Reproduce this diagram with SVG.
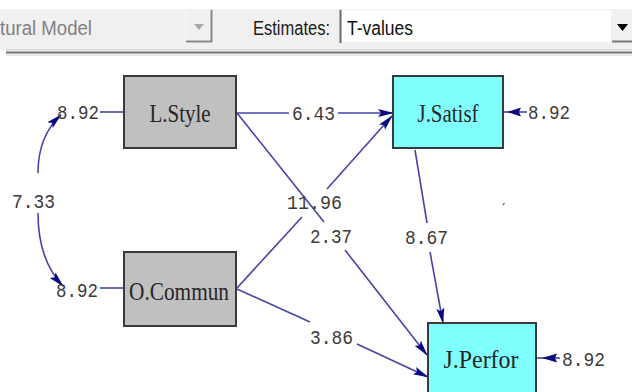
<svg xmlns="http://www.w3.org/2000/svg" width="632" height="392" viewBox="0 0 632 392">
<defs>
<style>
.hdr{font-family:"Liberation Sans","DejaVu Sans",sans-serif;font-size:20px}
.node rect{stroke:#3a3a3a;stroke-width:2}
.obs{fill:#c0c0c0}
.lat{fill:#80ffff}
.nt{font-family:"Liberation Serif","DejaVu Serif",serif;font-size:25px;fill:#262626;text-anchor:middle}
.num{font-family:"Liberation Mono","DejaVu Sans Mono",monospace;font-size:20px;fill:#3e3a3a}
.ln{stroke:#4545a5;stroke-width:1.6;fill:none}
.ar{fill:#0a0a80}
</style>
<marker id="ah" viewBox="0 0 16 10" refX="15" refY="5" markerWidth="16" markerHeight="10" markerUnits="userSpaceOnUse" orient="auto-start-reverse">
<path d="M0,1 L16,5 L0,9 L3,5 z" class="ar"/>
</marker>
</defs>
<rect width="632" height="392" fill="#ffffff"/>
<g id="toolbar">
<rect x="0" y="9" width="632" height="41" fill="#f0f0f0"/>
<line x1="186" y1="10" x2="186" y2="41" stroke="#fafafa" stroke-width="1"/>
<polyline points="186,41.5 211.5,41.5 211.5,10" fill="none" stroke="#8a8a8a" stroke-width="2"/>
<path d="M194,24 L204,24 L199,30 z" fill="#a8a8a8"/>
<text class="hdr" x="0" y="35" fill="#808080" textLength="92" lengthAdjust="spacingAndGlyphs">tural Model</text>
<text class="hdr" x="253" y="35" fill="#1a1a1a" textLength="77" lengthAdjust="spacingAndGlyphs">Estimates:</text>
<rect x="341" y="10" width="270" height="32" fill="#ffffff"/>
<line x1="340.5" y1="10" x2="340.5" y2="43" stroke="#6a6a6a" stroke-width="2"/>
<text class="hdr" x="347" y="35" fill="#111111" textLength="66" lengthAdjust="spacingAndGlyphs">T-values</text>
<rect x="611" y="10" width="21" height="31" fill="#f0f0f0"/>
<line x1="612" y1="41.5" x2="632" y2="41.5" stroke="#7a7a7a" stroke-width="2"/>
<path d="M617,24 L628,24 L622.5,31 z" fill="#000000"/>
<line x1="6" y1="50" x2="632" y2="50" stroke="#c8c8c8" stroke-width="1"/>
<line x1="6" y1="52.5" x2="632" y2="52.5" stroke="#707070" stroke-width="2"/>
<line x1="6" y1="55" x2="632" y2="55" stroke="#d0d0d0" stroke-width="1"/>
</g>
<g id="connectors">
<line class="ln" x1="100" y1="112" x2="124" y2="112"/>
<line class="ln" x1="100" y1="288" x2="124" y2="288"/>
<path class="ln" d="M38,173 Q38,136 61,115" marker-end="url(#ah)"/>
<path class="ln" d="M38,213 Q38,260 63,286" marker-end="url(#ah)"/>
<line class="ln" x1="237" y1="113" x2="289" y2="113"/>
<line class="ln" x1="338" y1="113" x2="393" y2="113" marker-end="url(#ah)"/>
<line class="ln" x1="237" y1="288" x2="302" y2="217"/>
<line class="ln" x1="327" y1="189" x2="392" y2="116" marker-end="url(#ah)"/>
<line class="ln" x1="237" y1="113" x2="324" y2="222"/>
<line class="ln" x1="345" y1="250" x2="427" y2="355" marker-end="url(#ah)"/>
<line class="ln" x1="237" y1="289" x2="310" y2="322"/>
<line class="ln" x1="357" y1="344" x2="428" y2="377" marker-end="url(#ah)"/>
<line class="ln" x1="415" y1="150" x2="427" y2="223"/>
<line class="ln" x1="430" y1="252" x2="443" y2="323" marker-end="url(#ah)"/>
<line class="ln" x1="504" y1="112" x2="527" y2="112"/>
<path class="ar" d="M507,112 L521,107.5 L519,112 L521,116.5 z"/>
<line class="ln" x1="537" y1="358" x2="560" y2="358"/>
<path class="ar" d="M542,358 L557,353.5 L555,358 L557,362.5 z"/>
<path d="M503,205 l1.5,-2" stroke="#505050" stroke-width="1.2"/>
</g>
<g id="LStyle" class="node">
<rect class="obs" x="124" y="76" width="112" height="72"/>
<text class="nt" x="180" y="122" textLength="61" lengthAdjust="spacingAndGlyphs">L.Style</text>
</g>
<g id="OCommun" class="node">
<rect class="obs" x="124" y="252" width="112" height="74"/>
<text class="nt" x="179" y="300" textLength="100" lengthAdjust="spacingAndGlyphs">O.Commun</text>
</g>
<g id="JSatisf" class="node">
<rect class="lat" x="393" y="76" width="110" height="72"/>
<text class="nt" x="448" y="122" textLength="61" lengthAdjust="spacingAndGlyphs">J.Satisf</text>
</g>
<g id="JPerfor" class="node">
<rect class="lat" x="428" y="323" width="108" height="76"/>
<text class="nt" x="481" y="368" textLength="75" lengthAdjust="spacingAndGlyphs">J.Perfor</text>
</g>
<g id="labels">
<text class="num" x="57" y="119" textLength="42" lengthAdjust="spacingAndGlyphs">8.92</text>
<text class="num" x="292" y="120" textLength="43" lengthAdjust="spacingAndGlyphs">6.43</text>
<text class="num" x="528" y="119" textLength="42" lengthAdjust="spacingAndGlyphs">8.92</text>
<text class="num" x="12" y="208" textLength="43" lengthAdjust="spacingAndGlyphs">7.33</text>
<text class="num" x="287" y="209" textLength="55" lengthAdjust="spacingAndGlyphs">11.96</text>
<text class="num" x="310" y="243" textLength="42" lengthAdjust="spacingAndGlyphs">2.37</text>
<text class="num" x="405" y="244" textLength="43" lengthAdjust="spacingAndGlyphs">8.67</text>
<text class="num" x="56" y="297" textLength="42" lengthAdjust="spacingAndGlyphs">8.92</text>
<text class="num" x="310" y="344" textLength="43" lengthAdjust="spacingAndGlyphs">3.86</text>
<text class="num" x="562" y="366" textLength="43" lengthAdjust="spacingAndGlyphs">8.92</text>
</g>
</svg>
